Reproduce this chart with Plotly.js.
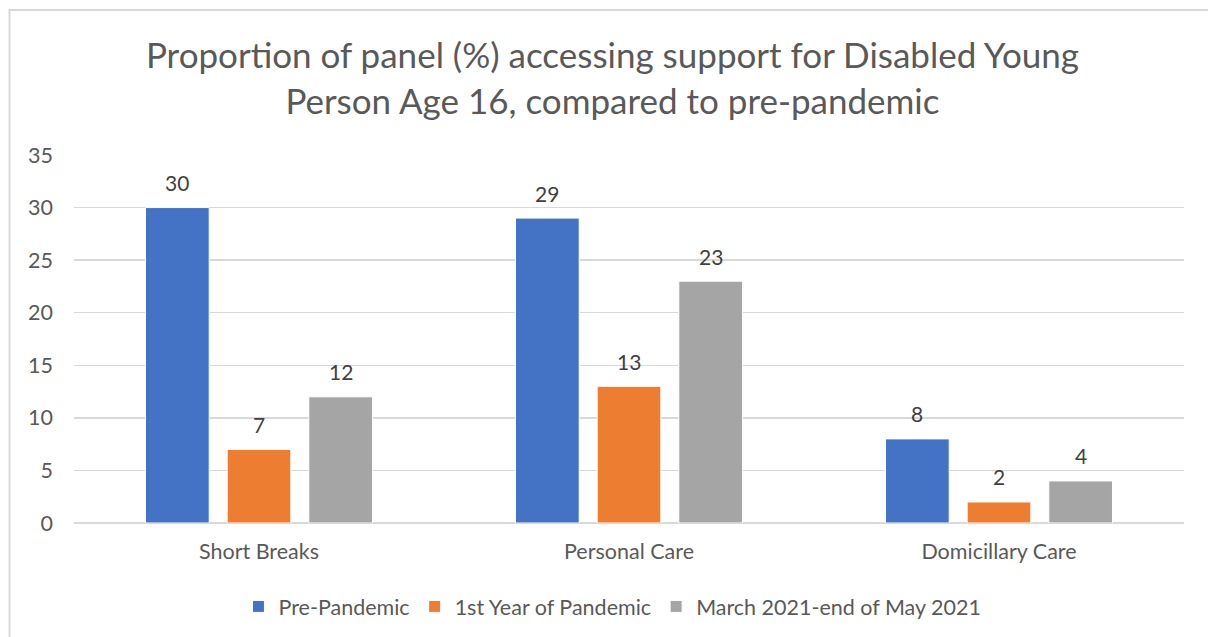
<!DOCTYPE html>
<html>
<head>
<meta charset="utf-8">
<script src="https://cdn.plot.ly/plotly-3.0.1.min.js"></script>
<style>html,body{margin:0;padding:0;background:#fff;}#chart{width:1208px;height:637px;}</style>
</head>
<body>
<div id="chart"></div>
<script>
const categories = ["Short Breaks", "Personal Care", "Domicillary Care"];
const seriesNames = ["Pre-Pandemic", "1st Year of Pandemic", "March 2021-end of May 2021"];
const prePandemic = [30, 29, 8];
const firstYear = [7, 13, 2];
const march2021 = [12, 23, 4];
const yTicks = [0, 5, 10, 15, 20, 25, 30, 35];

const colors = ["#4472C4", "#ED7D31", "#A5A5A5"];
const seriesValues = [prePandemic, firstYear, march2021];
const FONT = "Lato, 'Open Sans', sans-serif";
const bargap = 0.338;

const traces = seriesValues.map((vals, i) => ({
  type: "bar",
  name: seriesNames[i],
  x: categories,
  y: vals,
  marker: { color: colors[i], line: { color: "#ffffff", width: 1 } },
  hoverinfo: "skip"
}));

const slot = (1 - bargap) / seriesValues.length;
const annotations = [];
seriesValues.forEach((vals, i) => {
  vals.forEach((v, j) => {
    annotations.push({
      xref: "x", yref: "y",
      x: j + (i - (seriesValues.length - 1) / 2) * slot,
      y: v,
      text: String(v),
      showarrow: false,
      yanchor: "middle",
      yshift: 25,
      font: { family: FONT, size: 21, color: "#404040" }
    });
  });
});

const layout = {
  width: 1208, height: 637,
  paper_bgcolor: "#ffffff", plot_bgcolor: "#ffffff",
  margin: { l: 74, r: 24, t: 155, b: 114 },
  barmode: "group",
  bargap: bargap,
  bargroupgap: 0.22,
  font: { family: FONT, color: "#595959", size: 21 },
  title: {
    text: "Proportion of panel (%) accessing support for Disabled Young<br>Person Age 16, compared to pre-pandemic",
    font: { family: FONT, size: 35, color: "#595959" },
    x: 0.507, xanchor: "center", xref: "container",
    y: 0.893, yanchor: "middle", yref: "container"
  },
  xaxis: {
    type: "category",
    showgrid: false, showline: false, zeroline: false,
    ticks: "", ticklabelstandoff: 13,
    tickfont: { family: FONT, size: 21.5, color: "#595959" }
  },
  yaxis: {
    range: [0, 35],
    tickvals: yTicks,
    showgrid: true, gridcolor: "#d9d9d9", gridwidth: 1.3,
    zeroline: true, zerolinecolor: "#d9d9d9", zerolinewidth: 1.3,
    showline: false, ticks: "", ticklabelstandoff: 20,
    tickfont: { family: FONT, size: 21.5, color: "#595959" }
  },
  legend: {
    orientation: "h",
    x: 0.507, xanchor: "center", xref: "container",
    y: 0.048, yanchor: "middle", yref: "container",
    font: { family: FONT, size: 21.5, color: "#595959" },
    itemwidth: 30, traceorder: "normal"
  },
  annotations: annotations,
  shapes: [{
    type: "rect", xref: "paper", yref: "paper",
    x0: -0.0581, x1: 1.2, y0: -0.5, y1: 1.394,
    line: { color: "#d9d9d9", width: 2 }, fillcolor: "rgba(0,0,0,0)", layer: "below"
  }],
  showlegend: true
};

Plotly.newPlot("chart", traces, layout, { displayModeBar: false, staticPlot: true });
</script>
</body>
</html>
